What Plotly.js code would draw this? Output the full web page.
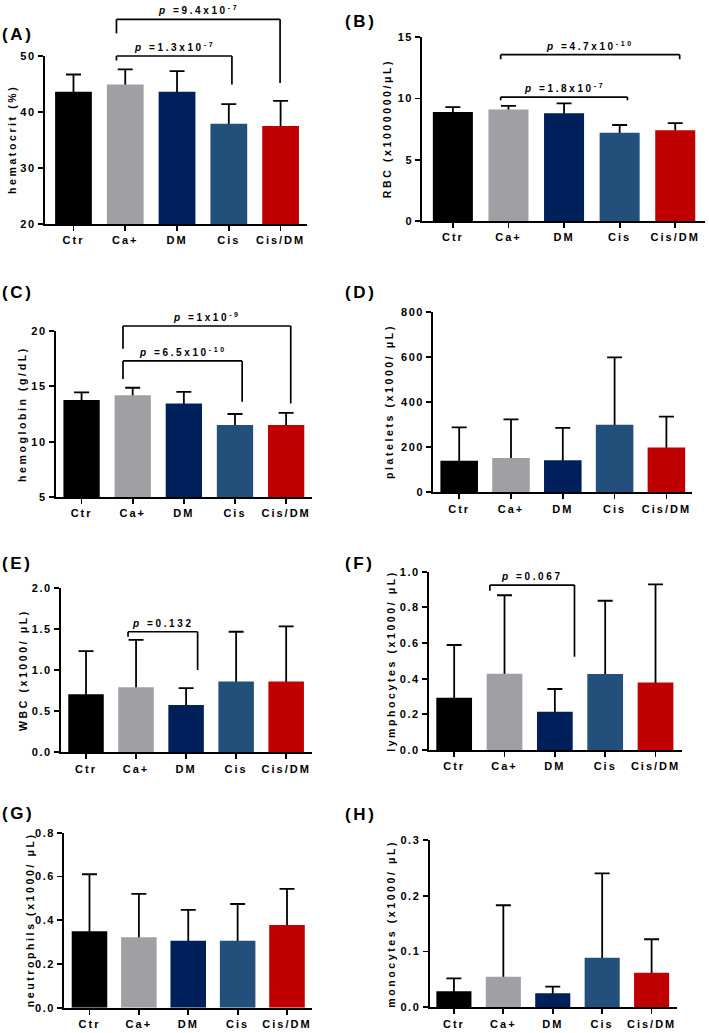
<!DOCTYPE html>
<html>
<head>
<meta charset="utf-8">
<script src="https://cdn.plot.ly/plotly-3.0.1.min.js"></script>
<style>
html,body{margin:0;padding:0;background:#fff;}
#chart{width:709px;height:1033px;}
.xaxislayer-above text{letter-spacing:2px;}
.yaxislayer-above text{letter-spacing:1.6px;}
.annotation-text{letter-spacing:2.6px;}
</style>
</head>
<body>
<div id="chart"></div>
<script>
// ---------------- data ----------------
const categories = ['Ctr', 'Ca+', 'DM', 'Cis', 'Cis/DM'];
const barColors = ['#000000', '#a0a0a4', '#00205b', '#22507b', '#c00000'];

const hematocrit = [43.6, 44.9, 43.6, 37.9, 37.5];
const hematocritSD = [3.1, 2.7, 3.7, 3.5, 4.5];
const rbc = [8.9, 9.1, 8.8, 7.2, 7.4];
const rbcSD = [0.4, 0.3, 0.8, 0.64, 0.6];
const hemoglobin = [13.76, 14.2, 13.46, 11.5, 11.5];
const hemoglobinSD = [0.7, 0.67, 1.04, 1.0, 1.1];
const platelets = [140, 152, 142, 299, 199];
const plateletsSD = [148, 171, 143, 299, 136];
const wbc = [0.705, 0.79, 0.575, 0.86, 0.86];
const wbcSD = [0.525, 0.575, 0.205, 0.605, 0.67];
const lymphocytes = [0.293, 0.428, 0.215, 0.426, 0.378];
const lymphocytesSD = [0.296, 0.44, 0.127, 0.411, 0.551];
const neutrophils = [0.349, 0.322, 0.306, 0.306, 0.378];
const neutrophilsSD = [0.261, 0.198, 0.141, 0.168, 0.165];
const monocytes = [0.029, 0.055, 0.025, 0.089, 0.062];
const monocytesSD = [0.023, 0.128, 0.012, 0.151, 0.06];

const panelLetters = ['(A)', '(B)', '(C)', '(D)', '(E)', '(F)', '(G)', '(H)'];
const yTitles = ['hematocrit (%)', 'RBC (x1000000/μL)', 'hemoglobin (g/dL)', 'platelets (x1000/ μL)',
  'WBC (x1000/ μL)', 'lymphocytes (x1000/ μL)', 'neutrophils (x1000/ μL)', 'monocytes (x1000/ μL)'];
const yTickVals = [[20, 30, 40, 50], [0, 5, 10, 15], [5, 10, 15, 20], [0, 200, 400, 600, 800],
  [0, 0.5, 1, 1.5, 2], [0, 0.2, 0.4, 0.6, 0.8, 1], [0, 0.2, 0.4, 0.6, 0.8], [0, 0.1, 0.2, 0.3]];
const yRanges = [[20, 50], [0, 15], [5, 20], [0, 800], [0, 2], [0, 1], [0, 0.8], [0, 0.3]];

// significance brackets: [from, to, bracket level, left leg end, right leg end, p label]
const bracketsA = [[0.83, 3.06, 50, 49.2, 44.9, '1.3x10<sup>-7</sup>'], [0.83, 3.99, 56.55, 54.05, 45.2, '9.4x10<sup>-7</sup>']];
const bracketsB = [[0.86, 3.14, 10.12, 9.85, 9.85, '1.8x10<sup>-7</sup>'], [0.86, 4.08, 13.58, 13.2, 13.2, '4.7x10<sup>-10</sup>']];
const bracketsC = [[0.81, 3.14, 17.3, 15.66, 13.6, '6.5x10<sup>-10</sup>'], [0.81, 4.09, 20.45, 18.4, 13.46, '1x10<sup>-9</sup>']];
const bracketsE = [[0.84, 2.23, 1.465, 1.405, 1.0, '0.132']];
const bracketsF = [[0.71, 2.39, 0.925, 0.893, 0.523, '0.067']];

// ---------------- layout geometry (px) ----------------
const W = 709, H = 1033;
const panelBoxes = [ // [left, right, top, bottom]
  [45, 307, 56, 224],
  [422.3, 704.7, 37.3, 221],
  [56, 311.7, 331, 497],
  [433.3, 692.3, 311.7, 492.3],
  [61, 311.7, 587.7, 752.3],
  [429, 681.7, 571.7, 750],
  [64.3, 311.7, 832.7, 1007.7],
  [429.7, 677.3, 840, 1007.3]];
const xRanges = [[-0.55, 4.51], [-0.55, 4.53], [-0.5, 4.5], [-0.5, 4.5], [-0.5, 4.51], [-0.5, 4.52], [-0.51, 4.5], [-0.49, 4.52]];
const barWidths = [0.71, 0.72, 0.71, 0.725, 0.71, 0.71, 0.72, 0.71];
const labelPos = [[0, 35], [343, 21], [0, 292], [343, 292], [0, 563], [343, 563], [0, 813], [343, 814]];
const titleX = [12, 387, 22, 389, 23, 391, 30, 391];

const values = [hematocrit, rbc, hemoglobin, platelets, wbc, lymphocytes, neutrophils, monocytes];
const errors = [hematocritSD, rbcSD, hemoglobinSD, plateletsSD, wbcSD, lymphocytesSD, neutrophilsSD, monocytesSD];
const brackets = [bracketsA, bracketsB, bracketsC, [], bracketsE, bracketsF, [], []];

const FONT = 'Liberation Sans, Arial, sans-serif';
const traces = [];
const layout = {
  width: W, height: H,
  margin: {l: 0, r: 0, t: 0, b: 0},
  paper_bgcolor: '#ffffff', plot_bgcolor: 'rgba(0,0,0,0)',
  showlegend: false, barmode: 'overlay', hovermode: false,
  font: {family: FONT, color: '#000', weight: 'bold'},
  shapes: [], annotations: []
};

for (let i = 0; i < 8; i++) {
  const s = i === 0 ? '' : String(i + 1);
  const xa = 'x' + s, ya = 'y' + s;
  // error bars (lower half hidden behind the bars drawn next)
  traces.push({
    type: 'bar', x: categories, y: values[i], xaxis: xa, yaxis: ya,
    width: barWidths[i], marker: {color: 'rgba(0,0,0,0)'},
    error_y: {type: 'data', array: errors[i], visible: true, color: '#000', thickness: 1.8, width: 7.5}
  });
  traces.push({
    type: 'bar', x: categories, y: values[i], xaxis: xa, yaxis: ya,
    width: barWidths[i], marker: {color: barColors, line: {width: 0}}
  });
  const b = panelBoxes[i];
  const isDec = i >= 4;
  layout['xaxis' + s] = {
    domain: [b[0] / W, b[1] / W], anchor: ya, type: 'category', range: xRanges[i],
    showline: true, linecolor: '#000', linewidth: 2, ticks: 'outside', ticklen: 5, tickwidth: 1.8, tickcolor: '#000',
    showgrid: false, zeroline: false, fixedrange: true,
    tickfont: {family: FONT, size: 11, color: '#000', weight: 'bold'}
  };
  layout['yaxis' + s] = {
    domain: [1 - b[3] / H, 1 - b[2] / H], anchor: xa, range: yRanges[i],
    tickvals: yTickVals[i], tickformat: isDec ? '.1f' : '',
    showline: true, linecolor: '#000', linewidth: 2, ticks: 'outside', ticklen: 5, tickwidth: 1.8, tickcolor: '#000',
    showgrid: false, zeroline: false, fixedrange: true,
    tickfont: {family: FONT, size: 11, color: '#000', weight: 'bold'}
  };
  // y-axis title (rotated annotation placed beside the axis)
  layout.annotations.push({
    xref: 'paper', yref: 'paper', x: titleX[i] / W, y: 1 - (b[2] + b[3]) / 2 / H,
    xanchor: 'center', yanchor: 'middle', textangle: -90, showarrow: false,
    text: yTitles[i], font: {family: FONT, size: 10.5, color: '#000', weight: 'bold'}
  });
  // panel letter
  layout.annotations.push({
    xref: 'paper', yref: 'paper', x: labelPos[i][0] / W, y: 1 - labelPos[i][1] / H,
    xanchor: 'left', yanchor: 'middle', showarrow: false,
    text: panelLetters[i], font: {family: FONT, size: 17, color: '#000', weight: 'bold'}
  });
  // brackets
  const r = yRanges[i];
  const dom = v => (v - r[0]) / (r[1] - r[0]);
  const yd = ya + ' domain';
  brackets[i].forEach(br => {
    const [x0, x1, lvl, l0, l1, lab] = br;
    const ln = {color: '#000', width: 1.7};
    layout.shapes.push({type: 'line', xref: xa, yref: yd, x0: x0, x1: x1, y0: dom(lvl), y1: dom(lvl), line: ln});
    layout.shapes.push({type: 'line', xref: xa, yref: yd, x0: x0, x1: x0, y0: dom(lvl), y1: dom(l0), line: ln});
    layout.shapes.push({type: 'line', xref: xa, yref: yd, x0: x1, x1: x1, y0: dom(lvl), y1: dom(l1), line: ln});
    layout.annotations.push({
      xref: xa, yref: yd, x: (x0 + x1) / 2, y: dom(lvl), yanchor: 'bottom', xanchor: 'center', yshift: 1,
      showarrow: false, text: '<i>p</i> =' + lab, font: {family: FONT, size: 10, color: '#000', weight: 'bold'}
    });
  });
}

Plotly.newPlot('chart', traces, layout, {staticPlot: true, displayModeBar: false});
</script>
</body>
</html>
